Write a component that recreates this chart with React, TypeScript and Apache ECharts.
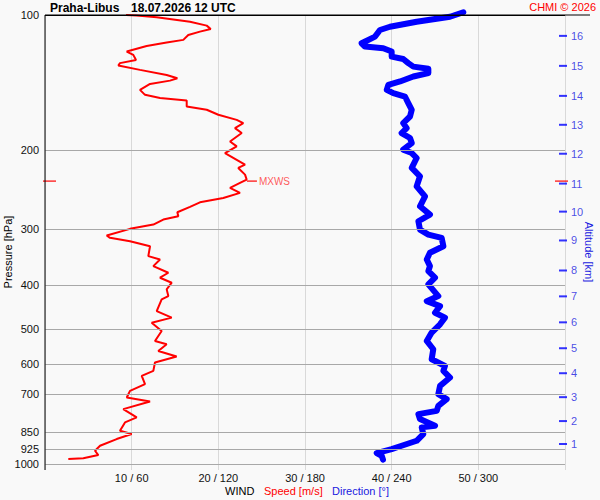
import React, { useEffect, useRef } from "react";
import * as echarts from "echarts";

// Pressure levels with grid lines / labels (hPa)
const pressureLevels = [100, 200, 300, 400, 500, 600, 700, 850, 925, 1000];

// Wind speed profile: [pressure hPa, speed m/s]
const windSpeedProfile: [number, number][] = [
  [100.0, 9.35], [100.3, 10.58], [101.2, 12.89], [103.5, 16.73], [105.6, 18.66],
  [107.4, 19.12], [108.9, 17.88], [110.8, 16.53], [113.6, 15.96], [115.2, 14.04],
  [117.2, 11.73], [120.6, 9.43], [122.7, 10.19], [125.9, 10.5], [128.0, 8.65],
  [129.6, 8.46], [132.5, 10.96], [136.0, 14.04], [138.3, 15.27], [140.0, 14.42],
  [142.4, 12.12], [146.8, 10.96], [150.6, 11.54], [153.1, 13.27], [155.0, 16.35],
  [159.9, 16.35], [162.6, 18.66], [166.8, 20.0], [171.2, 22.12], [174.1, 22.88],
  [178.6, 21.92], [183.2, 22.7], [191.3, 21.35], [196.2, 22.12], [203.0, 20.77],
  [210.1, 22.12], [215.4, 23.08], [219.1, 22.3], [226.7, 23.08], [232.6, 23.27],
  [236.6, 22.5], [242.7, 21.35], [249.0, 22.5], [255.5, 20.57], [261.3, 17.88],
  [267.5, 16.73], [275.0, 15.27], [280.7, 15.38], [285.5, 13.65], [292.9, 12.5],
  [299.4, 9.81], [309.8, 7.12], [313.5, 7.5], [319.0, 9.81], [327.3, 12.12],
  [344.4, 11.92], [350.3, 13.27], [362.5, 12.5], [375.0, 14.23], [384.7, 13.27],
  [394.7, 14.62], [408.4, 14.04], [422.7, 14.23], [430.0, 13.46], [456.5, 12.89],
  [472.1, 14.62], [484.4, 12.31], [505.6, 13.46], [532.1, 12.69], [541.2, 14.04],
  [560.1, 13.07], [576.4, 15.19], [594.3, 12.69], [620.4, 12.5], [636.5, 11.16],
  [664.1, 11.54], [687.3, 9.81], [711.0, 9.43], [725.6, 12.12], [754.7, 9.03],
  [787.5, 10.58], [807.9, 9.23], [843.3, 8.65], [857.7, 10.0], [880.0, 8.27],
  [910.7, 6.35], [934.3, 5.77], [955.0, 6.15], [971.2, 4.42], [974.7, 2.69],
];

// Wind direction profile: [pressure hPa, direction deg]
const windDirProfile: [number, number][] = [
  [98.6, 289.6], [100.9, 280.4], [103.5, 257.3], [106.2, 238.8], [108.0, 231.9],
  [111.7, 228.5], [115.6, 219.2], [117.6, 221.5], [118.6, 234.2], [120.6, 240.0],
  [123.8, 240.0], [125.3, 248.0], [128.0, 251.5], [130.3, 255.0], [131.8, 265.4],
  [134.7, 265.4], [137.1, 255.0], [140.6, 245.8], [143.1, 237.7], [146.8, 236.6],
  [149.3, 241.1], [151.9, 249.2], [157.1, 251.5], [162.6, 253.9], [168.3, 252.7],
  [174.1, 248.0], [178.6, 250.4], [183.2, 246.9], [187.9, 252.7], [192.8, 253.9],
  [199.5, 248.0], [203.0, 253.9], [208.2, 257.3], [219.1, 253.9], [228.7, 259.6],
  [240.8, 257.3], [253.4, 263.1], [266.7, 259.6], [278.3, 266.5], [288.0, 258.5],
  [300.5, 259.6], [308.3, 265.4], [313.5, 274.6], [327.3, 275.8], [338.5, 266.5],
  [350.3, 264.3], [362.5, 266.5], [372.0, 265.4], [384.7, 270.0], [398.1, 265.4],
  [422.7, 272.3], [433.8, 264.3], [445.0, 273.5], [460.3, 270.0], [472.1, 276.9],
  [488.6, 273.5], [509.7, 267.7], [532.1, 264.3], [555.2, 268.8], [584.5, 267.7],
  [604.8, 276.9], [620.4, 275.8], [641.8, 280.4], [669.9, 273.5], [699.1, 272.3],
  [717.2, 278.1], [742.2, 272.3], [761.5, 271.2], [774.4, 258.5], [794.3, 259.6],
  [822.0, 270.0], [828.8, 260.8], [857.7, 261.9], [887.7, 257.3], [910.7, 246.9],
  [926.4, 240.0], [945.6, 229.6], [958.8, 233.1], [978.0, 234.0],
];

// Altitude ticks on right: [km, pressure hPa]
const altitudeTicks: [number, number][] = [
  [1, 902.6], [2, 802.4], [3, 709.8], [4, 627.8], [5, 552.3], [6, 483.6],
  [7, 423.3], [8, 370.7], [9, 317.8], [10, 274.1], [11, 237.4], [12, 203.7],
  [13, 175.6], [14, 151.4], [15, 129.8], [16, 111.3],
];

// Maximum wind level
const maxWind = { speed: 23.3, pressure: 234.4 };

const FONT = '"Liberation Sans", Arial, sans-serif';

export default function App() {
  const ref = useRef<HTMLDivElement>(null);
  useEffect(() => {
    document.body.style.margin = "0";
    const chart = echarts.init(ref.current!, null, { renderer: "svg" });
    const option: any = {
      animation: false,
      backgroundColor: "#f9f9f9",
      textStyle: { fontFamily: FONT },
      grid: { left: 45, top: 15, width: 520, height: 449, outerBoundsMode: "none" },
      xAxis: [
        {
          type: "value",
          min: 0,
          max: 60,
          interval: 10,
          axisLine: { show: false },
          axisTick: { show: true, length: 6, lineStyle: { color: "#d9d9d9" } },
          splitLine: { show: true, lineStyle: { color: "#d9d9d9", width: 1 } },
          axisLabel: {
            margin: 8,
            fontSize: 11,
            color: "#111",
            fontFamily: FONT,
            formatter: (v: number) => (v > 0 && v < 60 ? `${v} / ${v * 6}` : ""),
          },
        },
        { type: "value", min: 0, max: 360, show: false },
      ],
      yAxis: [
        {
          type: "log",
          logBase: 10,
          min: 100,
          max: 1000,
          inverse: true,
          axisLine: { show: false },
          axisTick: { show: false },
          axisLabel: { show: false },
          splitLine: { show: false },
        },
      ],
      series: [
        {
          type: "line",
          data: [],
          z: 1,
          silent: true,
          markLine: {
            silent: true,
            symbol: ["none", "none"],
            animation: false,
            lineStyle: { color: "#a8a8a8", width: 1, type: "solid" },
            emphasis: { disabled: true },
            label: {
              show: true,
              position: "start",
              distance: 6,
              formatter: "{b}",
              color: "#111",
              fontSize: 11,
              fontFamily: FONT,
            },
            data: pressureLevels.map((p) => ({
              yAxis: p,
              name: String(p),
              lineStyle: p === 100 ? { color: "#000", width: 1, type: "solid" } : undefined,
            })),
          },
        },
        {
          type: "line",
          name: "Speed",
          xAxisIndex: 0,
          data: windSpeedProfile.map(([p, s]) => [s, p]),
          symbol: "none",
          lineStyle: { color: "#ff0000", width: 2 },
          z: 3,
          silent: true,
        },
        {
          type: "line",
          name: "Direction",
          xAxisIndex: 1,
          data: windDirProfile.map(([p, d]) => [d, p]),
          symbol: "none",
          clip: false,
          lineStyle: { color: "#0000ff", width: 6, cap: "round", join: "round" },
          z: 3,
          silent: true,
        },
        {
          type: "scatter",
          xAxisIndex: 0,
          data: altitudeTicks.map(([km, p]) => [60, p, km]),
          symbol: "rect",
          symbolSize: [8, 2],
          symbolOffset: [-2, 0],
          itemStyle: { color: "#0000ff" },
          clip: false,
          silent: true,
          z: 4,
          label: {
            show: true,
            position: "right",
            distance: 4,
            formatter: (pr: any) => String(pr.value[2]),
            color: "#1a1ae0",
            fontSize: 11,
            fontFamily: FONT,
          },
        },
        {
          type: "scatter",
          xAxisIndex: 0,
          data: [[maxWind.speed, maxWind.pressure]],
          symbol: "rect",
          symbolSize: [10, 1.5],
          symbolOffset: [5, 0],
          itemStyle: { color: "#ff0000" },
          clip: false,
          silent: true,
          z: 4,
          label: {
            show: true,
            position: "right",
            distance: 2,
            formatter: "MXWS",
            color: "#ff3030",
            fontSize: 10,
            fontFamily: FONT,
          },
        },
        {
          type: "scatter",
          xAxisIndex: 0,
          data: [[0, maxWind.pressure]],
          symbol: "rect",
          symbolSize: [13, 1.5],
          symbolOffset: [4.5, 0],
          itemStyle: { color: "#ff0000" },
          clip: false,
          silent: true,
          z: 4,
        },
        {
          type: "scatter",
          xAxisIndex: 0,
          data: [[60, maxWind.pressure]],
          symbol: "rect",
          symbolSize: [13, 1.5],
          symbolOffset: [-3.5, 0],
          itemStyle: { color: "#ff0000" },
          clip: false,
          silent: true,
          z: 4,
        },
      ],
      graphic: [
        { type: "line", z: 10, shape: { x1: 45, y1: 15, x2: 590, y2: 15 }, style: { stroke: "#000", lineWidth: 1 } },
        { type: "line", z: 10, shape: { x1: 45, y1: 15, x2: 45, y2: 470 }, style: { stroke: "#000", lineWidth: 1 } },
        {
          type: "text", x: 50, y: 8,
          style: { text: "Praha-Libus", fill: "#000", font: `bold 12px ${FONT}`, textAlign: "left", textVerticalAlign: "middle" },
        },
        {
          type: "text", x: 131, y: 8,
          style: { text: "18.07.2026 12 UTC", fill: "#000", font: `bold 12px ${FONT}`, textAlign: "left", textVerticalAlign: "middle" },
        },
        {
          type: "text", x: 596, y: 7,
          style: { text: "CHMI © 2026", fill: "#ff0000", font: `11px ${FONT}`, textAlign: "right", textVerticalAlign: "middle" },
        },
        {
          type: "text", x: 8, y: 252, rotation: Math.PI / 2,
          style: { text: "Pressure [hPa]", fill: "#000", font: `11px ${FONT}`, textAlign: "center", textVerticalAlign: "middle" },
        },
        {
          type: "text", x: 589, y: 252, rotation: -Math.PI / 2,
          style: { text: "Altitude [km]", fill: "#1a1ae0", font: `11px ${FONT}`, textAlign: "center", textVerticalAlign: "middle" },
        },
        {
          type: "text", x: 225, y: 491,
          style: { text: "WIND", fill: "#000", font: `11px ${FONT}`, textAlign: "left", textVerticalAlign: "middle" },
        },
        {
          type: "text", x: 264, y: 491,
          style: { text: "Speed [m/s]", fill: "#ff0000", font: `11px ${FONT}`, textAlign: "left", textVerticalAlign: "middle" },
        },
        {
          type: "text", x: 332, y: 491,
          style: { text: "Direction [°]", fill: "#1a1ae0", font: `11px ${FONT}`, textAlign: "left", textVerticalAlign: "middle" },
        },
      ],
    };
    chart.setOption(option);
    return () => chart.dispose();
  }, []);
  return (
    <div
      ref={ref}
      style={{ position: "absolute", left: 0, top: 0, width: 600, height: 500, background: "#f9f9f9" }}
    />
  );
}
